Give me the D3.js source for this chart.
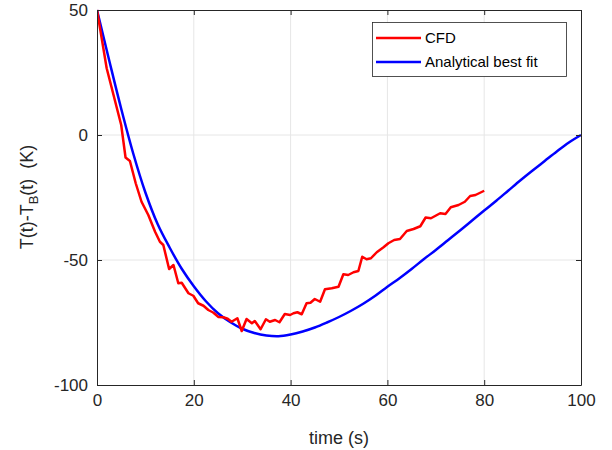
<!DOCTYPE html>
<html><head><meta charset="utf-8">
<script src="https://cdn.jsdelivr.net/npm/d3@7"></script>
<style>body{margin:0;background:#fff}svg{display:block;font-family:"Liberation Sans",Arial,sans-serif}</style>
</head><body><svg id="c" width="612" height="450"></svg>
<script>
const cfdTime = [0,2.0,5.0,5.9,6.8,8.0,9.2,10.6,12.0,13.0,13.7,14.9,15.8,16.8,17.5,18.9,19.9,20.9,22.0,23.0,24.0,25.1,26.1,27.0,27.8,29.0,29.9,30.9,32.0,32.6,33.8,34.9,35.7,36.8,37.7,38.8,39.9,40.6,41.4,42.3,43.3,44.1,45.0,46.1,47.1,48.5,49.9,50.9,51.9,53.0,54.0,54.8,55.7,56.6,57.8,59.2,60.2,61.4,62.6,64.0,65.4,66.8,67.9,69.0,70.9,72.0,73.1,74.7,76.0,77.1,78.2,80.0];
const cfdValue = [50,26.7,4,-9,-10.4,-19.3,-26.7,-32,-38.7,-42.7,-44,-53.6,-52,-59.3,-59.1,-63.3,-64.3,-67.3,-68.3,-70,-71,-72.8,-72.9,-73.5,-74.7,-73.3,-78.4,-73.6,-75.3,-74.4,-77.7,-73.7,-74.7,-74,-74.9,-71.6,-72,-71.3,-70.9,-71.7,-67.3,-67.1,-65.6,-66.7,-61.7,-61.3,-60.7,-55.7,-56,-54.9,-54.4,-48.7,-49.7,-49.3,-46.9,-44.9,-43.3,-42,-41.6,-38.4,-37.6,-36.5,-33,-33.3,-31.3,-31.6,-28.9,-28,-26.7,-24.4,-24,-22.3];
const fitTime = [0,2.5,5,7.5,10,12.5,15,17.5,20,22.5,25,27.5,30,32.5,35,37.5,40,42.5,45,47.5,50,52.5,55,57.5,60,62.5,65,67.5,70,72.5,75,77.5,80,82.5,85,87.5,90,92.5,95,97.5,100];
const fitValue = [50,30,10.5,-7.5,-23,-35.5,-45,-53.5,-60.5,-66.5,-71.3,-74.8,-77.5,-79.2,-80.2,-80.5,-79.8,-78.6,-77,-75,-72.8,-70.3,-67.5,-64.3,-60.7,-57.3,-53.6,-49.7,-46,-42.1,-38.2,-34.2,-30.2,-26.3,-22.2,-18.1,-14.2,-10.4,-6.6,-3,0];
const xTicks = [0,20,40,60,80,100];
const yTicks = [-100,-50,0,50];
const legendLabels = ["CFD","Analytical best fit"];
const seriesColors = ["#ff0000","#0000ff"];

const svg = d3.select("#c");
const L=97,R=581,T=10,B=385;
const x = d3.scaleLinear().domain([0,100]).range([L,R]);
const y = d3.scaleLinear().domain([-100,50]).range([B,T]);
const ax = "#262626";
const fmt = d => String(d);

// grid
const g = svg.append("g");
g.selectAll(".gx").data(xTicks.slice(1,-1)).enter().append("line")
 .attr("x1",d=>x(d)).attr("x2",d=>x(d)).attr("y1",T).attr("y2",B)
 .attr("stroke","#e6e6e6").attr("stroke-width",1);
g.selectAll(".gy").data(yTicks.slice(1,-1)).enter().append("line")
 .attr("y1",d=>y(d)).attr("y2",d=>y(d)).attr("x1",L).attr("x2",R)
 .attr("stroke","#e6e6e6").attr("stroke-width",1);

// lines
svg.append("clipPath").attr("id","cp").append("rect").attr("x",L).attr("y",T-2).attr("width",R-L+2).attr("height",B-T+4);
svg.append("path").datum(fitTime.map((t,i)=>[t,fitValue[i]]))
 .attr("d",d3.line().x(d=>x(d[0])).y(d=>y(d[1])).curve(d3.curveCatmullRom))
 .attr("fill","none").attr("stroke",seriesColors[1]).attr("stroke-width",2.5).attr("clip-path","url(#cp)");
svg.append("path").datum(cfdTime.map((t,i)=>[t,cfdValue[i]])).attr("d",d3.line().x(d=>x(d[0])).y(d=>y(d[1])))
 .attr("fill","none").attr("stroke",seriesColors[0]).attr("stroke-width",2.5).attr("stroke-linejoin","round").attr("clip-path","url(#cp)");

// axes
const xa = svg.append("g").attr("transform",`translate(0,${B})`).call(d3.axisBottom(x).tickValues(xTicks).tickFormat(fmt).tickSizeInner(-5).tickSizeOuter(0).tickPadding(9));
const xt = svg.append("g").attr("transform",`translate(0,${T})`).call(d3.axisTop(x).tickValues(xTicks).tickSizeInner(-5).tickSizeOuter(0).tickFormat(""));
const ya = svg.append("g").attr("transform",`translate(${L},0)`).call(d3.axisLeft(y).tickValues(yTicks).tickFormat(fmt).tickSizeInner(-5).tickSizeOuter(0).tickPadding(9));
const yr = svg.append("g").attr("transform",`translate(${R},0)`).call(d3.axisRight(y).tickValues(yTicks).tickSizeInner(-5).tickSizeOuter(0).tickFormat(""));
[xa,xt,ya,yr].forEach(a=>{
  a.selectAll("path").attr("stroke",ax).attr("stroke-width",1);
  a.selectAll("line").attr("stroke",ax);
  a.selectAll("text").attr("fill",ax).style("font-size","17px").style("font-family","'Liberation Sans',Arial,sans-serif");
});
ya.selectAll("text").attr("dy","0.35em");

// labels
svg.append("text").attr("x",(L+R)/2).attr("y",444).attr("text-anchor","middle").attr("fill",ax).style("font-size","18px").text("time (s)");
const yl = svg.append("text").attr("transform","translate(33,197) rotate(-90)").attr("text-anchor","middle").attr("fill",ax).style("font-size","18px").attr("xml:space","preserve").style("white-space","pre");
yl.append("tspan").text("T(t)-T");
yl.append("tspan").attr("dy",5).style("font-size","13px").text("B");
yl.append("tspan").attr("dy",-5).text("(t)\u00a0\u00a0(K)");

// legend
const lg = svg.append("g");
lg.append("rect").attr("x",372.5).attr("y",22.5).attr("width",194).attr("height",54).attr("fill","#fff").attr("stroke",ax).attr("stroke-width",0.8);
legendLabels.forEach((lab,i)=>{
  const yy = 38 + i*24;
  lg.append("line").attr("x1",376).attr("x2",421).attr("y1",yy).attr("y2",yy).attr("stroke",seriesColors[i]).attr("stroke-width",2.5);
  lg.append("text").attr("x",425).attr("y",yy).attr("dy","0.35em").attr("fill","#000").style("font-size","15px").text(lab);
});
</script></body></html>
